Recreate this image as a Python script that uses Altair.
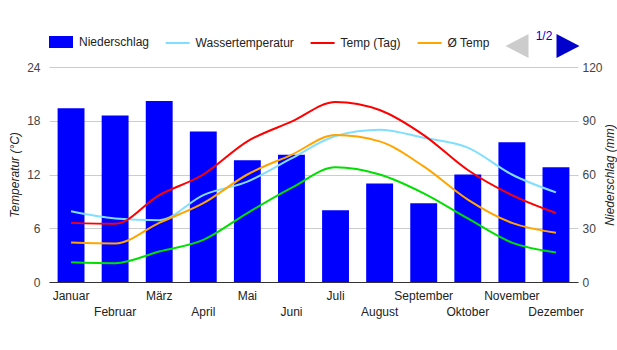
import altair as alt
import pandas as pd

months = ["Januar", "Februar", "März", "April", "Mai", "Juni", "Juli",
          "August", "September", "Oktober", "November", "Dezember"]
niederschlag = [97, 93, 101, 84, 68, 71, 40, 55, 44, 60, 78, 64]
wasser = [7.9, 7.1, 6.9, 9.7, 11.2, 13.8, 16.3, 17.0, 16.1, 15.0, 12.0, 10.0]
temp_tag = [6.6, 6.5, 9.7, 12.0, 15.7, 17.9, 20.1, 19.2, 16.4, 12.5, 9.7, 7.7]
temp_avg = [4.4, 4.3, 6.6, 8.8, 12.0, 14.2, 16.4, 15.7, 12.9, 9.2, 6.6, 5.5]
temp_nacht = [2.2, 2.1, 3.4, 4.7, 7.7, 10.5, 12.8, 12.0, 9.9, 7.1, 4.4, 3.3]

line_series = ["Wassertemperatur", "Temp (Tag)", "Ø Temp", "Temp (Nacht)"]
line_colors = ["#80dfff", "#ff0000", "#ffa500", "#00e000"]
line_values = [wasser, temp_tag, temp_avg, temp_nacht]

FONT = "Liberation Sans"

bar_df = pd.DataFrame({"Monat": months, "Niederschlag": niederschlag,
                       "Kat": ["Niederschlag"] * len(months)})
rows = []
for s, vals in zip(line_series, line_values):
    for m, v in zip(months, vals):
        rows.append({"Monat": m, "Serie": s, "Wert": v})
line_df = pd.DataFrame(rows)

even_months = "['Februar','April','Juni','August','Oktober','Dezember']"
x_enc = alt.X(
    "Monat:N", sort=months,
    scale=alt.Scale(paddingInner=0.39, paddingOuter=0.195),
    axis=alt.Axis(title=None, labelAngle=0, ticks=False, domainColor="#333333",
                  labelPadding=8, labelFontSize=12, labelColor="#222222",
                  labelBaseline="top", labelLineHeight=16, zindex=1,
                  labelExpr=f"indexof({even_months}, datum.value) >= 0 ? ['', datum.label] : datum.label"),
)

bars = alt.Chart(bar_df).mark_bar().encode(
    x=x_enc,
    y=alt.Y("Niederschlag:Q", scale=alt.Scale(domain=[0, 120], nice=False),
            axis=alt.Axis(orient="right", values=[0, 30, 60, 90, 120], grid=False,
                          domain=False, ticks=False, labelPadding=4, labelFontSize=12,
                          labelColor="#444444", title="Niederschlag (mm)",
                          titleFontStyle="italic", titleFontWeight="normal",
                          titleFontSize=12, titleColor="#222222", titleAngle=270,
                          titleX=31.5, titleY=107.5, titleAlign="center",
                          titleBaseline="middle")),
    fill=alt.Fill("Kat:N", scale=alt.Scale(domain=["Niederschlag"], range=["#0000ff"]),
                  legend=alt.Legend(title=None, orient="none", legendX=0, legendY=-37,
                                    padding=0, symbolType="M-1,-0.5H1V0.5H-1Z",
                                    symbolSize=576, symbolStrokeWidth=0,
                                    labelFontSize=12, labelOffset=6, labelColor="#222222")),
)

lines = alt.Chart(line_df).mark_line(strokeWidth=2, interpolate="monotone").encode(
    x=x_enc,
    y=alt.Y("Wert:Q", scale=alt.Scale(domain=[0, 24], nice=False),
            axis=alt.Axis(orient="left", values=[0, 6, 12, 18, 24], grid=True,
                          gridColor="#cccccc", domain=False, ticks=False, labelPadding=9,
                          labelFontSize=12, labelColor="#444444", title="Temperatur (°C)",
                          titleFontStyle="italic", titleFontWeight="normal",
                          titleFontSize=12, titleColor="#222222", titleAngle=270,
                          titleX=-35, titleY=107.5, titleAlign="center",
                          titleBaseline="middle")),
    stroke=alt.Stroke("Serie:N", scale=alt.Scale(domain=line_series, range=line_colors),
                      legend=alt.Legend(title=None, orient="none", direction="horizontal",
                                        legendX=115.6, legendY=-37, padding=0,
                                        values=line_series[:3], symbolType="stroke",
                                        symbolSize=576, symbolStrokeWidth=2,
                                        labelFontSize=12, labelOffset=5, columnPadding=12,
                                        labelColor="#222222")),
    detail="Serie:N",
)

one = pd.DataFrame({"a": [0]})
arrow_left = alt.Chart(one).mark_point(
    shape="M0.96,-1L-0.96,0L0.96,1Z", filled=True, size=576, color="#cccccc", opacity=1
).encode(x=alt.value(468), y=alt.value(-21))
arrow_right = alt.Chart(one).mark_point(
    shape="M-0.96,-1L0.96,0L-0.96,1Z", filled=True, size=576, color="#0000cc", opacity=1
).encode(x=alt.value(519), y=alt.value(-21))
pager = alt.Chart(one).mark_text(
    text="1/2", font=FONT, fontSize=12, color="#0000cc", baseline="alphabetic"
).encode(x=alt.value(495), y=alt.value(-27))

chart = alt.layer(bars, lines, arrow_left, arrow_right, pager).resolve_scale(
    y="independent"
).properties(
    width=529, height=215,
    padding={"left": 49, "top": 67, "right": 39, "bottom": 68},
    autosize=alt.AutoSizeParams(type="none"),
).configure(font=FONT).configure_view(stroke=None)

chart.save("out.html", embed_options={"renderer": "svg", "actions": False})
